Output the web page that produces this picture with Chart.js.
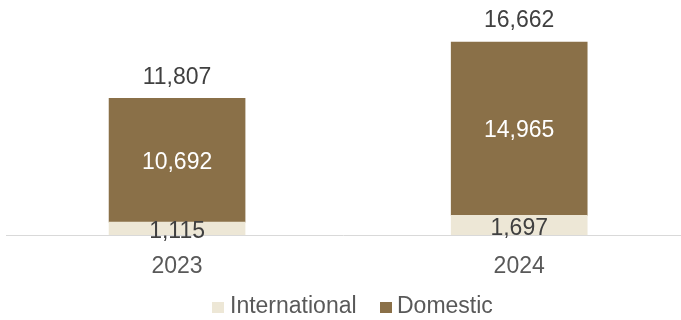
<!DOCTYPE html>
<html>
<head>
<meta charset="utf-8">
<script src="https://cdn.jsdelivr.net/npm/chart.js@4.4.1/dist/chart.umd.min.js"></script>
<style>
  html, body { margin: 0; padding: 0; background: #fff; }
  #wrap { width: 681px; height: 320px; }
</style>
</head>
<body>
<div id="wrap"><canvas id="chart" width="681" height="320"></canvas></div>
<script>
const years = ['2023', '2024'];
const international = [1115, 1697];
const domestic = [10692, 14965];
const totals = [11807, 16662];

const fmt = (v) => v.toLocaleString('en-US');
const FONT = 'Liberation Sans, Arial, sans-serif';

// value labels inside the bars and totals above
const labelPlugin = {
  id: 'barLabels',
  afterDatasetsDraw(chart) {
    const ctx = chart.ctx;
    ctx.save();
    ctx.font = '23px ' + FONT;
    ctx.textAlign = 'center';
    ctx.textBaseline = 'middle';
    chart.data.datasets.forEach((ds, di) => {
      const meta = chart.getDatasetMeta(di);
      meta.data.forEach((bar, i) => {
        const mid = (bar.y + bar.base) / 2;
        ctx.fillStyle = di === 1 ? '#ffffff' : '#404040';
        ctx.fillText(fmt(ds.data[i].y), bar.x, di === 0 ? mid + 3 : mid + 2);
        if (di === 1) {
          ctx.fillStyle = '#404040';
          ctx.fillText(fmt(totals[i]), bar.x, bar.y - 21);
        }
      });
    });
    ctx.restore();
  }
};

// legend drawn by hand, the built-in one spaces items differently
const legendPlugin = {
  id: 'bottomLegend',
  afterDraw(chart) {
    const ctx = chart.ctx;
    const items = [
      { ds: 0, box: 212, text: 230 },
      { ds: 1, box: 380, text: 397 }
    ];
    ctx.save();
    ctx.font = '23px ' + FONT;
    ctx.textBaseline = 'middle';
    ctx.textAlign = 'left';
    items.forEach((it) => {
      const ds = chart.data.datasets[it.ds];
      ctx.fillStyle = ds.backgroundColor;
      ctx.fillRect(it.box, 302, 12, 11);
      ctx.fillStyle = '#595959';
      ctx.fillText(ds.label, it.text, 307);
    });
    ctx.restore();
  }
};

new Chart(document.getElementById('chart'), {
  type: 'bar',
  data: {
    datasets: [
      {
        label: 'International',
        data: international.map((v, i) => ({ x: i, y: v })),
        backgroundColor: '#ede7d6',
        barThickness: 136,
        stack: 's'
      },
      {
        label: 'Domestic',
        data: domestic.map((v, i) => ({ x: i, y: v })),
        backgroundColor: '#8a7048',
        barThickness: 136,
        stack: 's'
      }
    ]
  },
  options: {
    responsive: false,
    animation: false,
    layout: { padding: { left: 6, right: 1, top: 0, bottom: 30 } },
    plugins: {
      tooltip: { enabled: false },
      legend: { display: false }
    },
    scales: {
      x: {
        type: 'linear',
        offset: false,
        min: -0.5,
        max: 1.47,
        stacked: true,
        grid: { display: false },
        border: { display: true, color: '#d9d9d9', width: 1 },
        afterBuildTicks: (axis) => { axis.ticks = years.map((_, i) => ({ value: i })); },
        afterFit: (axis) => { axis.height = 55; },
        ticks: {
          color: '#595959',
          font: { family: FONT, size: 23 },
          padding: 10,
          callback: (v) => years[v]
        }
      },
      y: {
        display: false,
        stacked: true,
        min: 0,
        max: 20300
      }
    }
  },
  plugins: [labelPlugin, legendPlugin]
});
</script>
</body>
</html>
